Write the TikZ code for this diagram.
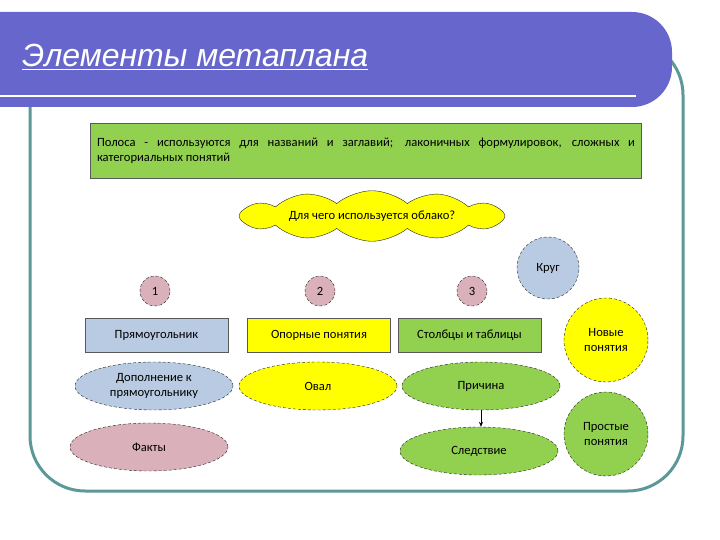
\documentclass[tikz,border=0pt]{standalone}
\usepackage{fontspec}
\setmainfont{Carlito}
\newfontfamily\titlefont{Liberation Sans}
\usetikzlibrary{shapes.geometric,shapes.symbols,arrows.meta}

\definecolor{barblue}{RGB}{102,102,204}
\definecolor{frameteal}{RGB}{92,152,152}
\definecolor{stripgreen}{RGB}{146,208,80}
\definecolor{greyblue}{RGB}{185,203,226}
\definecolor{mauve}{RGB}{218,176,187}
\definecolor{signyellow}{RGB}{255,255,0}

\tikzset{
  shapeline/.style={draw=black!85, densely dashed, line width=0.4pt},
  boxline/.style={draw=black!65, line width=0.6pt},
  oval/.style={ellipse, shapeline, minimum width=158pt, minimum height=48pt, inner sep=0pt, align=center},
  numdot/.style={circle, shapeline, fill=mauve, minimum size=30pt, inner sep=0pt},
  bigdot/.style={circle, shapeline, minimum size=84pt, inner sep=0pt, align=center},
  labelbox/.style={rectangle, boxline, minimum width=143pt, minimum height=34pt, inner sep=0pt}
}

\begin{document}
\begin{tikzpicture}[x=1pt, y=-1pt, font=\fontsize{12.6}{15.2}\selectfont]
    \useasboundingbox (0,0) rectangle (720,540);
    \clip (0,0) rectangle (720,540);

    % Frame of the slide
    \draw[frameteal, line width=3pt, rounded corners=55pt] (30,40) rectangle (683,491);

    % Title bar
    \fill[barblue, rounded corners=40pt] (-80,12) rectangle (672,107);
    \draw[white, line width=2pt] (0,96) -- (636,96);
    \node[anchor=base west, text=white, inner sep=0pt, font=\titlefont\itshape\fontsize{32}{36}\selectfont] (title) at (22,67) {\underline{Элементы метаплана}};

    % Strip
    \node[rectangle, boxline, fill=stripgreen, minimum width=551pt, minimum height=55pt, text width=538pt, align=justify, inner sep=0pt] (strip) at (366,150.5)
      {Полоса - используются для названий и заглавий; лаконичных формулировок, сложных и\linebreak категориальных понятий};

    % Cloud
    \node[cloud, draw=black!85, fill=signyellow, cloud puffs=12, cloud puff arc=80, aspect=8, minimum width=266pt, minimum height=28pt, inner sep=0pt] (cloud) at (372,216) {Для чего используется облако?};

    % Circle
    \node[bigdot, fill=greyblue, minimum size=62pt] (krug) at (548,268) {Круг};

    % Numbers
    \node[numdot] (one) at (155,291) {1};
    \node[numdot] (two) at (320,291) {2};
    \node[numdot] (three) at (472,291) {3};

    % Row of rectangles
    \node[labelbox, fill=greyblue] (rect) at (156.5,335) {Прямоугольник};
    \node[labelbox, fill=signyellow] (keys) at (319,335) {Опорные понятия};
    \node[labelbox, fill=stripgreen] (cols) at (469.5,335) {Столбцы и таблицы};

    % Ovals
    \node[oval, fill=greyblue] (addon) at (154,386) {Дополнение к\\прямоугольнику};
    \node[oval, fill=signyellow] (oval) at (318,386) {Овал};
    \node[oval, fill=mauve] (facts) at (149,447) {Факты};
    \node[oval, fill=stripgreen] (cause) at (481,386) {Причина};
    \node[oval, fill=stripgreen] (effect) at (479,451) {Следствие};

    % Big circles
    \node[bigdot, fill=signyellow] (newterms) at (606,340) {Новые\\понятия};
    \node[bigdot, fill=stripgreen] (simple) at (606,434) {Простые\\понятия};

    \draw[-{Stealth[length=5pt, width=4pt]}, line width=0.5pt] (cause.south) -- (cause.south |- effect.north);

\end{tikzpicture}
\end{document}
